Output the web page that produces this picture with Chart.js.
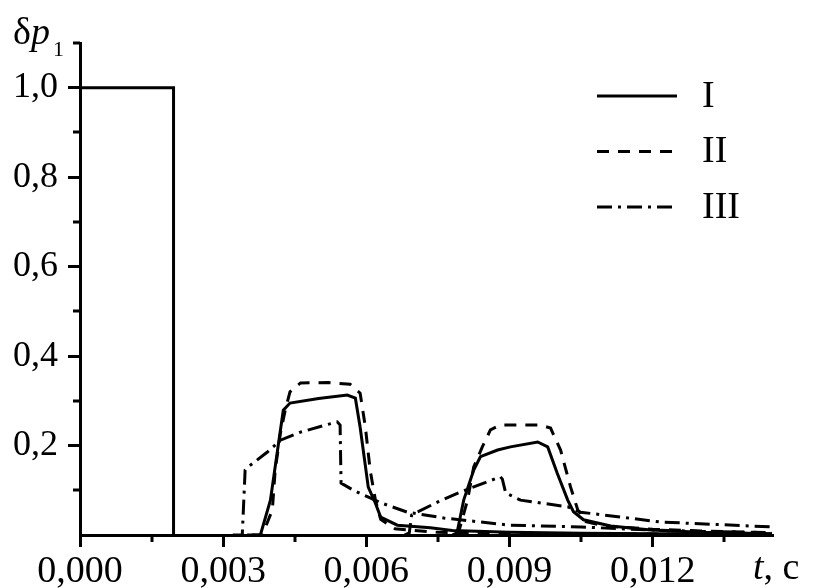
<!DOCTYPE html>
<html>
<head>
<meta charset="utf-8">
<script src="https://cdn.jsdelivr.net/npm/chart.js@4.4.0/dist/chart.umd.min.js"></script>
<style>
  html, body { margin: 0; padding: 0; background: #fff; }
  #chart { display: block; }
</style>
</head>
<body>
<canvas id="chart" width="813" height="588"></canvas>
<script>
// input pulse
const pulseT = [0, 0.00196, 0.00196];
const pulseY = [1.0, 1.0, 0];

// curve I (solid), two reflected pulses
const i1T = [0.0035, 0.00378, 0.00399, 0.00416, 0.00426, 0.0044, 0.005, 0.0056, 0.00577, 0.00587, 0.00604, 0.00619, 0.0063, 0.00665, 0.00734, 0.0078, 0.009, 0.0105, 0.012, 0.0145];
const i1Y = [0, 0, 0.078, 0.205, 0.279, 0.295, 0.305, 0.313, 0.306, 0.241, 0.107, 0.071, 0.04, 0.022, 0.016, 0.01, 0.006, 0.004, 0.003, 0.002];
const i2T = [0.0078, 0.0079, 0.00804, 0.00825, 0.00839, 0.00875, 0.00902, 0.00959, 0.0098, 0.01, 0.01022, 0.01034, 0.01055, 0.01112, 0.01196, 0.013, 0.0145];
const i2Y = [0, 0.005, 0.078, 0.145, 0.175, 0.19, 0.197, 0.208, 0.197, 0.138, 0.078, 0.052, 0.034, 0.02, 0.011, 0.006, 0.003];

// curve II (dashed)
const ii1T = [0.0036, 0.00382, 0.00403, 0.00409, 0.0042, 0.0043, 0.0044, 0.00462, 0.0052, 0.00566, 0.00587, 0.00598, 0.00608, 0.00619, 0.0063, 0.0066, 0.0075, 0.009, 0.0105, 0.012, 0.0145];
const ii1Y = [0, 0, 0.056, 0.145, 0.228, 0.279, 0.32, 0.34, 0.341, 0.337, 0.317, 0.241, 0.145, 0.078, 0.035, 0.014, 0.006, 0.004, 0.003, 0.002, 0.001];
const ii2T = [0.0079, 0.00793, 0.00812, 0.00825, 0.00843, 0.0086, 0.00881, 0.00965, 0.00986, 0.01007, 0.01028, 0.01043, 0.0106, 0.011, 0.012, 0.013, 0.0145];
const ii2Y = [0, 0.005, 0.078, 0.152, 0.197, 0.235, 0.246, 0.246, 0.239, 0.19, 0.107, 0.056, 0.03, 0.02, 0.013, 0.009, 0.005];

// curve III (dash-dot)
const iii1T = [0.0032, 0.0034, 0.00346, 0.00352, 0.00392, 0.0042, 0.00462, 0.00539, 0.00545, 0.00547, 0.00573, 0.00608, 0.0063, 0.00686, 0.00762, 0.009, 0.0105, 0.0115, 0.013, 0.0145];
const iii1Y = [0, 0, 0.145, 0.152, 0.185, 0.212, 0.23, 0.253, 0.246, 0.116, 0.1, 0.083, 0.072, 0.051, 0.038, 0.022, 0.018, 0.013, 0.008, 0.005];
const iii2T = [0.0068, 0.0069, 0.00695, 0.0075, 0.00797, 0.00846, 0.00881, 0.00885, 0.00892, 0.00923, 0.01022, 0.01049, 0.01217, 0.0145];
const iii2Y = [0, 0.005, 0.045, 0.074, 0.096, 0.116, 0.13, 0.125, 0.094, 0.078, 0.063, 0.051, 0.029, 0.018];

const xTicks = [0, 0.003, 0.006, 0.009, 0.012];
const xTickLabels = ["0,000", "0,003", "0,006", "0,009", "0,012"];
const xMinor = [0.0015, 0.0045, 0.0075, 0.0105, 0.0135];
const yTicks = [0.2, 0.4, 0.6, 0.8, 1.0];
const yTickLabels = ["0,2", "0,4", "0,6", "0,8", "1,0"];
const yMinor = [0.1, 0.3, 0.5, 0.7, 0.9, 1.1];

const serif = "'Liberation Serif', 'Times New Roman', serif";
const dashes = { I: [], II: [12, 9], III: [15, 6, 3, 6] };

function pts(t, y) {
  return t.map((v, i) => ({ x: v, y: y[i] }));
}

function line(label, t, y, inLegend) {
  return {
    label: label,
    data: pts(t, y),
    borderColor: "#000",
    borderWidth: 3,
    borderDash: dashes[label] || [],
    pointRadius: 0,
    tension: 0,
    fill: false,
    clip: false,
    inLegend: inLegend,
  };
}

const datasets = [
  line("pulse", pulseT, pulseY, false),
  line("I", i1T, i1Y, true),
  line("I", i2T, i2Y, false),
  line("II", ii1T, ii1Y, true),
  line("II", ii2T, ii2Y, false),
  line("III", iii1T, iii1Y, true),
  line("III", iii2T, iii2Y, false),
];

// minor ticks, legend and axis titles
const extras = {
  id: "extras",
  afterDraw(chart) {
    const ctx = chart.ctx;
    const xs = chart.scales.x;
    const ys = chart.scales.y;
    const area = chart.chartArea;
    ctx.save();
    ctx.strokeStyle = "#000";
    ctx.lineWidth = 3;
    xMinor.forEach((v) => {
      const px = Math.round(xs.getPixelForValue(v));
      ctx.beginPath();
      ctx.moveTo(px, area.bottom);
      ctx.lineTo(px, area.bottom + 7);
      ctx.stroke();
    });
    yMinor.forEach((v) => {
      const py = Math.round(ys.getPixelForValue(v));
      ctx.beginPath();
      ctx.moveTo(area.left - 7, py);
      ctx.lineTo(area.left, py);
      ctx.stroke();
    });

    // legend
    const shown = chart.data.datasets.filter((d) => d.inLegend);
    shown.forEach((d, i) => {
      const y = 96 + i * 55.5;
      ctx.setLineDash(d.borderDash);
      ctx.lineWidth = 3;
      ctx.beginPath();
      ctx.moveTo(597, y);
      ctx.lineTo(677, y);
      ctx.stroke();
      ctx.setLineDash([]);
      ctx.fillStyle = "#000";
      ctx.font = "38px " + serif;
      ctx.textBaseline = "middle";
      ctx.textAlign = "left";
      ctx.fillText(d.label, 702, y + 1);
    });

    // y title: δp1
    ctx.textBaseline = "alphabetic";
    ctx.font = "38px " + serif;
    ctx.fillText("δ", 13, 44);
    const dw = ctx.measureText("δ").width;
    ctx.font = "italic 38px " + serif;
    ctx.fillText("p", 13 + dw, 44);
    const pw = ctx.measureText("p").width;
    ctx.font = "22px " + serif;
    ctx.fillText("1", 16 + dw + pw, 56);

    // x title: t, c
    ctx.font = "italic 38px " + serif;
    ctx.fillText("t", 753, 579);
    const tw = ctx.measureText("t").width;
    ctx.font = "38px " + serif;
    ctx.fillText(", c", 753 + tw, 579);
    ctx.restore();
  },
};

const ctx = document.getElementById("chart").getContext("2d");
new Chart(ctx, {
  type: "line",
  data: { datasets: datasets },
  plugins: [extras],
  options: {
    responsive: false,
    animation: false,
    events: [],
    layout: { padding: { top: 43, right: 41, left: 0, bottom: 0 } },
    plugins: { legend: { display: false }, tooltip: { enabled: false } },
    scales: {
      x: {
        type: "linear",
        min: 0,
        max: 0.0145,
        afterFit: (s) => { s.height = 53; },
        afterBuildTicks: (s) => { s.ticks = xTicks.map((v) => ({ value: v })); },
        border: { display: true, color: "#000", width: 3 },
        grid: { drawOnChartArea: false, drawTicks: true, tickLength: 12, lineWidth: 3, color: "#000" },
        ticks: {
          color: "#000",
          padding: 2,
          maxRotation: 0,
          autoSkip: false,
          font: { family: serif, size: 38 },
          callback: (v) => xTickLabels[xTicks.indexOf(v)],
        },
      },
      y: {
        type: "linear",
        min: 0,
        max: 1.1,
        afterFit: (s) => { s.width = 80; },
        afterBuildTicks: (s) => { s.ticks = yTicks.map((v) => ({ value: v })); },
        border: { display: true, color: "#000", width: 3 },
        grid: { drawOnChartArea: false, drawTicks: true, tickLength: 12, lineWidth: 3, color: "#000" },
        ticks: {
          color: "#000",
          padding: 10,
          autoSkip: false,
          font: { family: serif, size: 36 },
          callback: (v) => yTickLabels[yTicks.indexOf(v)],
        },
      },
    },
  },
});
</script>
</body>
</html>
